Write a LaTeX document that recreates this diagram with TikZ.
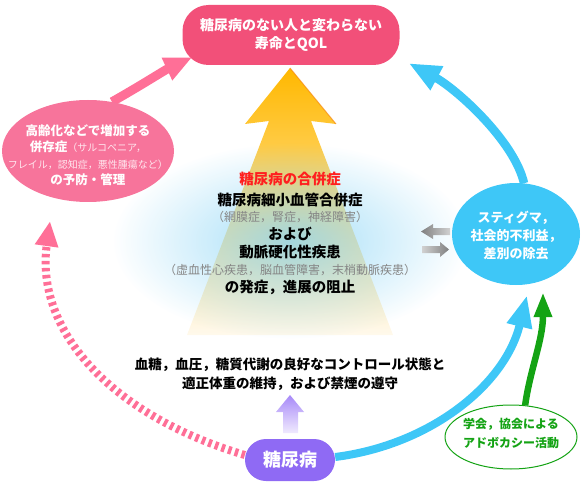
\documentclass[tikz,border=0pt]{standalone}
\usepackage{fontspec}
\newfontfamily\jp{Noto Sans CJK JP}
\usetikzlibrary{arrows.meta,shapes.geometric,fadings}
\tikzfading[name=myglow, inner color=transparent!0, outer color=transparent!100]
\pgfdeclarelayer{bg}
\pgfsetlayers{bg,main}
\newcommand{\myfs}[2]{\fontsize{#1}{#2}\selectfont}
\definecolor{topred}{HTML}{F25079}
\definecolor{leftpink}{HTML}{F7749B}
\definecolor{pinkarrow}{HTML}{FF6F97}
\definecolor{bluec}{HTML}{3EC7F7}
\definecolor{greenc}{HTML}{14A314}
\definecolor{purplec}{HTML}{8F6AF4}
\definecolor{lightpinktxt}{HTML}{FFE6EE}
\definecolor{redtxt}{HTML}{FF1F1F}
\definecolor{graytxt}{HTML}{858585}
\definecolor{arrowtop}{HTML}{FFB800}
\definecolor{arrowmid}{HTML}{FFD350}
\definecolor{arrowbot}{HTML}{FFF9EC}
\definecolor{glowc}{HTML}{86D3F5}
\definecolor{purpletop}{HTML}{A789F8}
\definecolor{purplebot}{HTML}{F0EAFE}
\begin{document}
\begin{tikzpicture}[x=1pt,y=-1pt,
  txt/.style={align=center, inner sep=0pt},
  blob/.style={ellipse, inner sep=0pt},
  pill/.style={rectangle, inner sep=0pt, text=white, align=center},
  conn/.style={line cap=butt}
]
\useasboundingbox (0,0) rectangle (584,484);

% main boxes
\node[pill, fill=topred, minimum width=217pt, minimum height=60pt, rounded corners=26pt,
      font=\jp\bfseries\myfs{14}{17.5}] (top) at (291,35) {糖尿病のない人と変わらない\\寿命とQOL};
\node[blob, fill=leftpink, minimum width=172pt, minimum height=102pt] (left) at (88,151) {};
\node[blob, fill=bluec, minimum width=128pt, minimum height=102pt] (right) at (516,234) {};
\node[blob, draw=greenc, line width=1pt, fill=white, minimum width=132pt, minimum height=64pt] (adv) at (511,437) {};
\node[pill, fill=purplec, minimum width=90pt, minimum height=42pt, rounded corners=21pt,
      font=\jp\bfseries\myfs{18}{20}] (dm) at (290,460) {糖尿病};

% texts
\node[txt, text=white, font=\jp\bfseries\myfs{12.5}{16.5}] (lefttext) at (88,155) {高齢化などで増加する\\
  併存症{\mdseries\myfs{10}{16.5}\color{lightpinktxt}（サルコペニア，}\\
  {\mdseries\myfs{10}{16.5}\color{lightpinktxt}フレイル，認知症，悪性腫瘍など）}\\
  の予防・管理};
\node[txt, text=white, font=\jp\bfseries\myfs{13}{18}] (righttext) at (516,235) {スティグマ，\\社会的不利益，\\差別の除去};
\node[txt, text=greenc, font=\jp\bfseries\myfs{12}{19}] (advtext) at (511,433) {学会，協会による\\アドボカシー活動};
\node[txt, text=black, font=\jp\bfseries\myfs{14.5}{18}] (center) at (290,233) {{\color{redtxt}糖尿病の合併症}\\[3pt]
  糖尿病細小血管合併症\\[-2pt]
  {\mdseries\myfs{12}{18}\color{graytxt}（網膜症，腎症，神経障害）}\\
  および\\
  動脈硬化性疾患\\[-1pt]
  {\mdseries\myfs{12}{18}\color{graytxt}（虚血性心疾患，脳血管障害，末梢動脈疾患）}\\
  の発症，進展の阻止};
\node[txt, text=black, font=\jp\bfseries\myfs{13.5}{19.5}] (control) at (290,374) {血糖，血圧，糖質代謝の良好なコントロール状態と\\適正体重の維持，および禁煙の遵守};

\begin{pgfonlayer}{bg}
% big yellow arrow
\shade[top color=arrowtop, middle color=arrowmid, bottom color=arrowbot]
  (290,68) -- (336,124) -- (311,121) -- (393,335) -- (187,335) -- (269,121) -- (245,124) -- cycle;
\draw[line width=1pt, draw=orange!85!brown, opacity=0.6] (290,68) -- (336,124);
% blue glow
\fill[glowc, path fading=myglow, fill opacity=0.75] (290,241) ellipse [x radius=178pt, y radius=98pt];
% gray arrows
\shade[left color=black!50, right color=black!18]
  (421,231.5) -- (433,224) -- (433,228) -- (450,228) -- (450,235) -- (433,235) -- (433,239) -- cycle;
\shade[left color=black!18, right color=black!50]
  (449,249.5) -- (440,242) -- (440,246) -- (422,246) -- (422,253) -- (440,253) -- (440,257) -- cycle;
% purple small arrow
\shade[top color=purpletop, bottom color=purplebot]
  (290,395) -- (304,412) -- (298,412) -- (298,433) -- (283,433) -- (283,412) -- (276,412) -- cycle;

% connectors
\draw[conn, pinkarrow, line width=9pt, -{Triangle[length=28pt,width=23pt]}]
  (left.64) .. controls (140,86) and (165,70) .. ([shift={(10,-8)}]top.south west);
\draw[conn, bluec, line width=8.5pt, -{Triangle[length=32pt,width=25pt]}]
  (right.81) .. controls (514,140) and (455,88) .. ([shift={(9,-2)}]top.south east);
\draw[conn, bluec, line width=8pt, -{Triangle[length=32pt,width=24pt]}]
  ([shift={(0,-3)}]dm.east) .. controls (430,445) and (505,385) .. ([shift={(11,10)}]right.south);
\draw[conn, greenc, line width=6.5pt, -{Triangle[length=25pt,width=17pt]}]
  (adv.66) .. controls (530,370) and (543,340) .. ([shift={(27,7)}]right.south);
\draw[conn, pinkarrow, line width=8pt, dash pattern=on 3.5pt off 3.5pt, -{Triangle[length=25pt,width=22pt]}]
  ([shift={(0,-5)}]dm.west) .. controls (110,415) and (35,330) .. ([shift={(-38,19)}]left.south);
\end{pgfonlayer}
\end{tikzpicture}
\end{document}
